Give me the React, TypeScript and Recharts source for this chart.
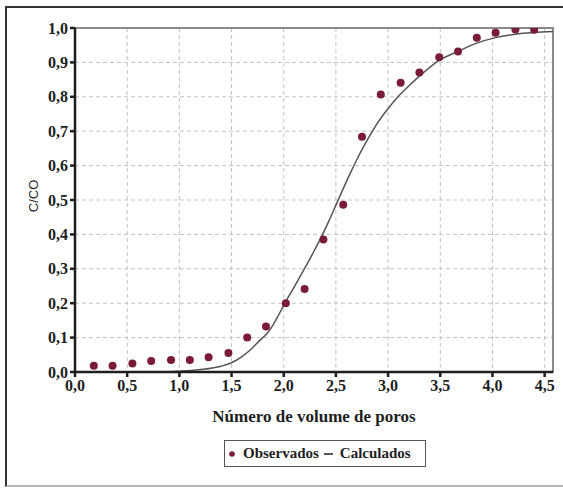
import React from "react";
import {
  ComposedChart,
  Scatter,
  Line,
  XAxis,
  YAxis,
  CartesianGrid,
  ReferenceArea,
  Legend,
} from "recharts";

// Observed relative concentration (C/C0) against pore volumes
const obsVolumes = [
  0.18, 0.36, 0.55, 0.73, 0.92, 1.1, 1.28, 1.47, 1.65, 1.83, 2.02, 2.2,
  2.38, 2.57, 2.75, 2.93, 3.12, 3.3, 3.49, 3.67, 3.85, 4.03, 4.22, 4.4,
];
const obsConc = [
  0.018, 0.018, 0.025, 0.032, 0.035, 0.035, 0.043, 0.055, 0.1, 0.132, 0.2,
  0.241, 0.385, 0.486, 0.684, 0.807, 0.841, 0.871, 0.915, 0.932, 0.972,
  0.986, 0.996, 0.995,
];

// Calculated breakthrough curve
const calcVolumes = [
  0, 0.8, 1.0, 1.2, 1.4, 1.5, 1.6, 1.7, 1.77, 1.84, 1.9, 1.95, 2.01, 2.1,
  2.18, 2.27, 2.36, 2.43, 2.5, 2.57, 2.63, 2.7, 2.76, 2.83, 2.89, 2.98, 3.11,
  3.2, 3.3, 3.5, 3.67, 3.85, 4.03, 4.22, 4.4, 4.58,
];
const calcConc = [
  0, 0, 0.002, 0.007, 0.017, 0.027, 0.045, 0.07, 0.092, 0.112, 0.138, 0.165,
  0.2, 0.247, 0.29, 0.34, 0.392, 0.437, 0.485, 0.533, 0.573, 0.617, 0.652,
  0.69, 0.72, 0.758, 0.805, 0.832, 0.86, 0.908, 0.932, 0.956, 0.972, 0.982,
  0.987, 0.99,
];

const xTicks = [0, 0.5, 1, 1.5, 2, 2.5, 3, 3.5, 4, 4.5];
const yTicks = [0, 0.1, 0.2, 0.3, 0.4, 0.5, 0.6, 0.7, 0.8, 0.9, 1];

const X_MAX = 4.58;

const observed = obsVolumes.map((x, i) => ({ x, y: obsConc[i] }));
const calculated = calcVolumes.map((x, i) => ({ x, y: calcConc[i] }));

const fmt = (v: number) => v.toFixed(1).replace(".", ",");

const SERIF = "'Liberation Serif', 'Times New Roman', serif";
const DOT = "#7a1c38";
const CURVE = "#555555";

const tickStyle = {
  fontFamily: SERIF,
  fontWeight: 700,
  fontSize: 16,
  fill: "#1e1e1e",
};

const YLabel = (props: any) => {
  const vb = props.viewBox || {};
  const cx = (vb.x ?? 0) + 33;
  const cy = (vb.y ?? 0) + (vb.height ?? 0) / 2 - 4;
  return (
    <text
      x={cx}
      y={cy}
      transform={`rotate(-90 ${cx} ${cy})`}
      textAnchor="middle"
      dominantBaseline="central"
      fontFamily="'Liberation Sans', Arial, sans-serif"
      fontSize={13}
      fill="#222"
    >
      C/CO
    </text>
  );
};

const LegendBox = () => (
  <div
    style={{
      width: 200,
      height: 25,
      border: "1px solid #555",
      display: "flex",
      alignItems: "center",
      fontFamily: SERIF,
      fontWeight: 700,
      fontSize: 15,
      color: "#1e1e1e",
      boxSizing: "content-box",
    }}
  >
    <svg width={16} height={12} style={{ marginLeft: 3 }}>
      <circle cx={4} cy={6} r={2.8} fill={DOT} />
    </svg>
    <span style={{ marginLeft: -1 }}>Observados</span>
    <svg width={22} height={12}>
      <line x1={5} y1={6} x2={14} y2={6} stroke={CURVE} strokeWidth={2} />
    </svg>
    <span style={{ marginLeft: -1 }}>Calculados</span>
  </div>
);

export default function App() {
  return (
    <div
      style={{
        position: "fixed",
        left: 0,
        top: 0,
        width: 563,
        height: 488,
        overflow: "hidden",
        background: "#fff",
      }}
    >
      <div
        style={{
          position: "absolute",
          left: 5,
          top: 6,
          width: 570,
          height: 477,
          borderTop: "2px solid #333",
          borderLeft: "2px solid #333",
          borderBottom: "2px solid #b5b5b5",
        }}
      />
      <ComposedChart
        width={563}
        height={488}
        margin={{ top: 28, right: 10, bottom: 39, left: 0 }}
        style={{ position: "absolute", left: 0, top: 0 }}
      >
        <CartesianGrid stroke="#c2c2c2" strokeDasharray="4 3" />
        <ReferenceArea
          x1={0}
          x2={X_MAX}
          y1={0}
          y2={1}
          fill="none"
          stroke="#8a8a8a"
          strokeWidth={2}
          ifOverflow="visible"
        />
        <XAxis
          type="number"
          dataKey="x"
          domain={[0, X_MAX]}
          ticks={xTicks}
          tickFormatter={fmt}
          allowDataOverflow
          height={50}
          tick={tickStyle}
          tickSize={5}
          tickMargin={3}
          stroke="#1e1e1e"
          strokeWidth={2.5}
          label={{
            value: "Número de volume de poros",
            position: "insideBottom",
            offset: 0,
            style: {
              fontFamily: SERIF,
              fontWeight: 700,
              fontSize: 17,
              fill: "#1e1e1e",
            },
          }}
        />
        <YAxis
          type="number"
          dataKey="y"
          domain={[0, 1]}
          ticks={yTicks}
          tickFormatter={fmt}
          allowDataOverflow
          width={75}
          tick={tickStyle}
          tickSize={5}
          tickMargin={2}
          stroke="#1e1e1e"
          strokeWidth={2.5}
          label={<YLabel />}
        />
        <Line
          data={calculated}
          dataKey="y"
          type="monotone"
          stroke={CURVE}
          strokeWidth={1.5}
          dot={false}
          activeDot={false}
          isAnimationActive={false}
          name="Calculados"
        />
        <Scatter
          data={observed}
          dataKey="y"
          fill={DOT}
          shape={(p: any) => <circle cx={p.cx} cy={p.cy} r={4} fill={DOT} />}
          isAnimationActive={false}
          name="Observados"
        />
        <Legend
          content={<LegendBox />}
          wrapperStyle={{ position: "absolute", left: 224, top: 440, width: 202, bottom: "auto" }}
        />
      </ComposedChart>
    </div>
  );
}
